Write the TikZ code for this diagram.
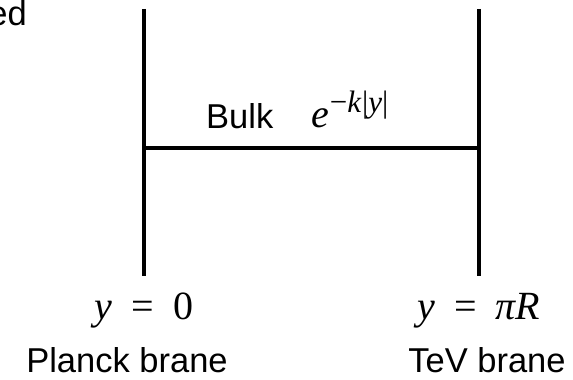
\documentclass[tikz,border=0pt]{standalone}
\usepackage{fontspec}
\setmainfont{Liberation Sans}
\newfontfamily\eqfont{Liberation Serif}
\newcommand{\eqvar}[1]{{\eqfont\itshape #1}}
\begin{document}
\begin{tikzpicture}
% Two-brane slice, drawn in pixel units
\def\pxsz{1pt}
\providecommand{\braneLineWidth}{4.6pt}
\providecommand{\bulkLineWidth}{4.2pt}
\providecommand{\labelSize}{\fontsize{34.5}{40}\selectfont}
\providecommand{\eqSize}{\fontsize{40}{46}\selectfont}
\providecommand{\supSize}{\fontsize{31}{34}\selectfont}
\tikzset{
  namelabel/.style={inner sep=0pt, font=\labelSize},
  eqlabel/.style={inner sep=0pt, font=\eqSize}
}
\begin{scope}[x=\pxsz, y=\pxsz, line cap=butt]
  \useasboundingbox (0,0) rectangle (573,380);
  % Brane end points
  \coordinate (planckTop) at (144,371);
  \coordinate (planckBot) at (144,104);
  \coordinate (tevTop) at (479,371);
  \coordinate (tevBot) at (479,104);
  \coordinate (planckMid) at (144,232);
  \coordinate (tevMid) at (479,232);
  % Branes
  \begin{scope}[draw=black, line width=\braneLineWidth]
    \draw (planckTop) -- (planckBot);
    \draw (tevTop) -- (tevBot);
  \end{scope}
  % Bulk
  \draw[line width=\bulkLineWidth] (planckMid) -- (tevMid);
  % Labels
  \node[namelabel, anchor=base east] (edFragment) at (27,354) {ed};
  \node[namelabel, anchor=base west] (bulkName) at (206,251) {Bulk};
  \node[eqlabel, anchor=base west] (warpFactor) at (311,252)
    {\eqvar{e}\kern1pt\raisebox{15pt}{\supSize{\eqfont −}\eqvar{k}\kern1pt{\eqfont |}\eqvar{y}{\eqfont |}}};
  \node[eqlabel, anchor=base] (planckEq) at (144,60)
    {\eqvar{y}\hspace{19pt}{\eqfont =}\hspace{19pt}{\eqfont 0}};
  \node[eqlabel, anchor=base] (tevEq) at (479,60)
    {\eqvar{y}\hspace{19pt}{\eqfont =}\hspace{19pt}\eqvar{πR}};
  \node[namelabel, anchor=base] (planckName) at (127,7) {Planck brane};
  \node[namelabel, anchor=base] (tevName) at (487,7) {TeV brane};
\end{scope}
\end{tikzpicture}
\end{document}
